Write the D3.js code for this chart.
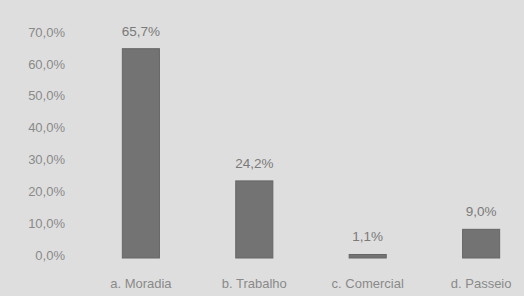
<!DOCTYPE html>
<html>
<head>
<meta charset="utf-8">
<script src="https://cdn.jsdelivr.net/npm/d3@7"></script>
<style>
  body { margin: 0; background: #dedede; }
  svg { display: block; }
</style>
</head>
<body>
<div id="chart"></div>
<script>
// ---------- Data ---------- //
var categories = ["a. Moradia", "b. Trabalho", "c. Comercial", "d. Passeio"];
var values = [65.7, 24.2, 1.1, 9.0];
var yTicks = [0, 10, 20, 30, 40, 50, 60, 70];

var fmt = function(v){ return v.toFixed(1).replace(".", ",") + "%"; };

var width = 524;
var height = 296;
var margin = { top: 35, right: 13, bottom: 38, left: 111 };

var svg = d3.select("#chart")
  .append("svg")
  .attr("width", width)
  .attr("height", height);

svg.append("rect")
  .attr("width", width)
  .attr("height", height)
  .attr("fill", "#dedede");

var x = d3.scaleBand()
  .domain(categories)
  .range([margin.left, width - margin.right])
  .paddingInner(0.673)
  .paddingOuter(0.1);

var y = d3.scaleLinear()
  .domain([0, 70])
  .range([height - margin.bottom, margin.top]);

var font = "Liberation Sans, Arial, sans-serif";

// y axis labels only (no line, no ticks)
var yAxis = g => g
  .attr("transform", `translate(65,-3)`)
  .call(d3.axisLeft(y).tickValues(yTicks).tickFormat(fmt).tickSize(0).tickPadding(0))
  .call(g => g.select(".domain").remove())
  .call(g => g.selectAll("text")
    .attr("fill", "#8a8a8a")
    .attr("font-family", font)
    .attr("font-size", 13));

svg.append("g").call(yAxis);

// bars
svg.append("g")
  .selectAll("rect")
  .data(values)
  .join("rect")
  .attr("x", (d, i) => x(categories[i]))
  .attr("y", d => y(d))
  .attr("width", x.bandwidth())
  .attr("height", d => y(0) - y(d))
  .attr("fill", "#737373")
  .attr("stroke", "#666")
  .attr("stroke-width", 1);

// value labels
svg.append("g")
  .attr("font-family", font)
  .attr("font-size", 13.5)
  .attr("fill", "#7a7a7a")
  .attr("text-anchor", "middle")
  .selectAll("text")
  .data(values)
  .join("text")
  .attr("x", (d, i) => x(categories[i]) + x.bandwidth() / 2)
  .attr("y", d => y(d) - 13)
  .text(d => fmt(d));

// category labels
var xAxis = g => g
  .attr("transform", `translate(0,${height - margin.bottom})`)
  .call(d3.axisBottom(x).tickSize(0).tickPadding(21))
  .call(g => g.select(".domain").remove())
  .call(g => g.selectAll("text")
    .attr("fill", "#8a8a8a")
    .attr("font-family", font)
    .attr("font-size", 13));

svg.append("g").call(xAxis);
</script>
</body>
</html>
